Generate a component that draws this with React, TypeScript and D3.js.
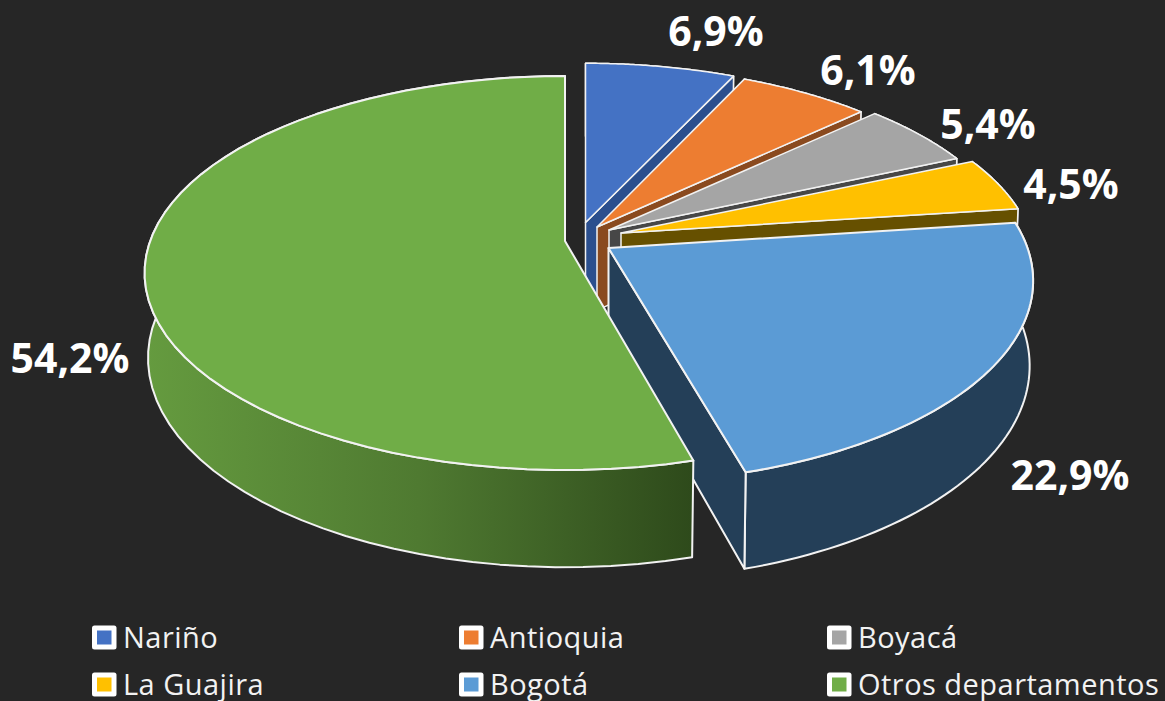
import React from "react";
import * as d3 from "d3";

const categories = ["Nariño", "Antioquia", "Boyacá", "La Guajira", "Bogotá", "Otros departamentos"];
const shares = [6.9, 6.1, 5.4, 4.5, 22.9, 54.2];
const percentLabels = ["6,9%", "6,1%", "5,4%", "4,5%", "22,9%", "54,2%"];
const topColors = ["#4472c4", "#ed7d31", "#a5a5a5", "#ffc000", "#5b9bd5", "#70ad47"];
const wallColors = ["#2b4f8e", "#8a4a1f", "#474747", "#665000", "#243f58", "url(#greenWall)"];

// layout of the exploded 3D pie
const apexX = [585.5, 597, 609, 621, 608.5, 565];
const apexY = [222.5, 227, 230, 233, 248, 241];
const scaleX = [0.977, 0.972, 0.978, 0.988, 1.012, 1.002];
const scaleY = [0.965, 0.975, 0.985, 0.985, 1.027, 1];
const endNudge = [0, 0, 0, 0, -0.016, 0];
const radiusX = 414;
const radiusY = 191.8;
const perspective = 0.1625;
const depth = 84;
const depthScale = 0.008;
const strokeWidths = [1.5, 1.5, 1.5, 1.5, 2, 2];
const labelX = [716, 868, 988, 1071, 1070, 70];
const labelY = [46, 85, 139, 199, 490, 373];
const legendX = [92, 459, 827];
const legendY = [625.5, 672.5];

const W = 1165;
const H = 701;

export default function App() {
  const arcs = d3.pie<number>().sort(null).startAngle(0).endAngle(2 * Math.PI)(shares);
  const line = d3.line<[number, number]>();

  const proj = (i: number, a: number, r: number, low: boolean): [number, number] => {
    const u = Math.sin(a) * r;
    const v = Math.cos(a) * r;
    const w = 1 + perspective * v + (low ? depthScale : 0);
    return [
      apexX[i] + (radiusX * scaleX[i] * u) / w,
      apexY[i] + (-radiusY * scaleY[i] * v + (low ? depth : 0)) / w,
    ];
  };
  const rim = (i: number, a0: number, a1: number, low: boolean) =>
    d3.range(0, 61).map((k) => proj(i, a0 + ((a1 - a0) * k) / 60, 1, low));

  const topPath = (i: number, a0: number, a1: number) =>
    line([proj(i, 0, 0, false), ...rim(i, a0, a1, false)]) + "Z";
  const outerWall = (i: number, a0: number, a1: number) =>
    line([...rim(i, a0, a1, false), ...rim(i, a1, a0, true)]) + "Z";
  const cutWall = (i: number, a: number) =>
    line([proj(i, 0, 0, false), proj(i, a, 1, false), proj(i, a, 1, true), proj(i, 0, 0, true)]) + "Z";

  return (
    <svg
      width={W}
      height={H}
      viewBox={`0 0 ${W} ${H}`}
      style={{ position: "fixed", left: 0, top: 0, background: "#262626", display: "block" }}
    >
      <defs>
        <linearGradient id="greenWall" gradientUnits="userSpaceOnUse" x1={145} x2={692} y1={0} y2={0}>
          <stop offset="0" stopColor="#659b3f" />
          <stop offset="0.5" stopColor="#4f7a31" />
          <stop offset="1" stopColor="#2e4a1b" />
        </linearGradient>
      </defs>
      <rect width={W} height={H} fill="#262626" />
      {arcs.map((d, i) => {
        const a1 = d.endAngle + endNudge[i];
        const stroke = { stroke: "#f2f2f2", strokeWidth: strokeWidths[i], strokeLinejoin: "round" as const };
        return (
          <g key={categories[i]}>
            <path d={outerWall(i, d.startAngle, a1)} fill={wallColors[i]} {...stroke} />
            {i < 5 && <path d={cutWall(i, a1)} fill={wallColors[i]} {...stroke} />}
            <path d={topPath(i, d.startAngle, a1)} fill={topColors[i]} {...stroke} />
          </g>
        );
      })}
      {percentLabels.map((t, i) => (
        <text
          key={t}
          x={labelX[i]}
          y={labelY[i]}
          textAnchor="middle"
          fontFamily="'Open Sans', sans-serif"
          fontWeight={700}
          fontSize={41}
          fill="#ffffff"
        >
          {t}
        </text>
      ))}
      {categories.map((c, i) => {
        const x = legendX[i % 3];
        const y = legendY[Math.floor(i / 3)];
        return (
          <g key={c}>
            <rect x={x} y={y} width={24.5} height={24} rx={2.5} fill="#ffffff" />
            <rect x={x + 5} y={y + 5} width={14.5} height={14} fill={topColors[i]} />
            <text
              x={x + 31}
              y={y + 22}
              fontFamily="'Open Sans', sans-serif"
              fontSize={29}
              letterSpacing={0.47}
              fill="#f2f2f2"
            >
              {c}
            </text>
          </g>
        );
      })}
    </svg>
  );
}
